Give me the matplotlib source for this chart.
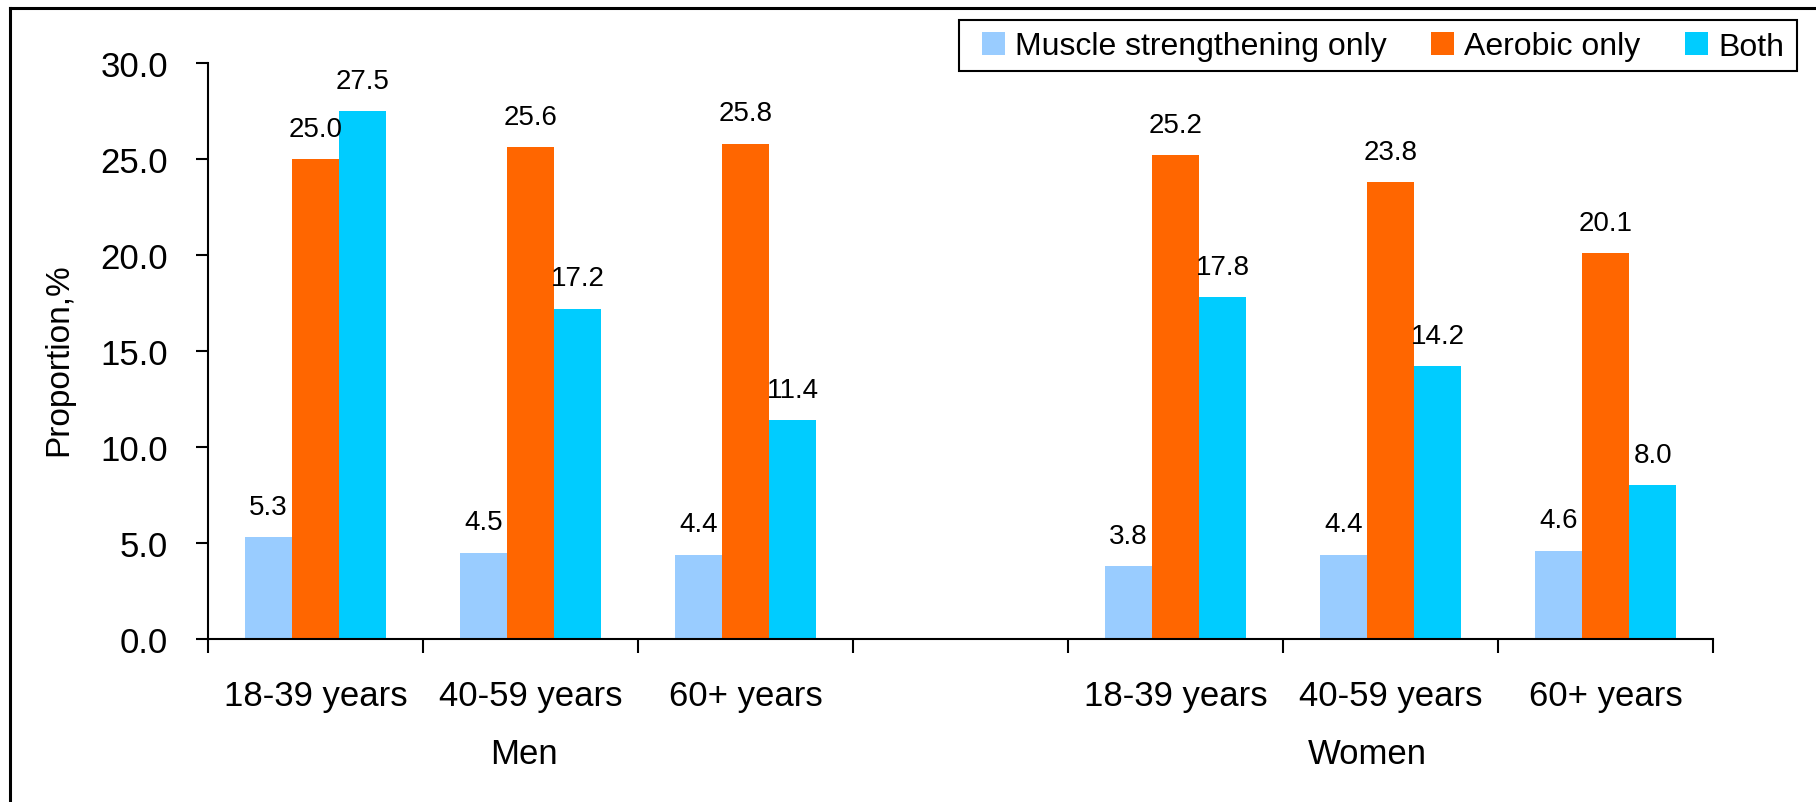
# coding=utf-8
"""
Proportion of adults meeting activity guidelines, by sex and age group
"""

import numpy as np
import matplotlib
matplotlib.use('Agg')
import matplotlib.pyplot as plt
from matplotlib.lines import Line2D
from matplotlib.patches import Rectangle

# Data
age_groups = ['18-39 years', '40-59 years', '60+ years']
sexes = ['Men', 'Women']
series = ['Muscle strengthening only', 'Aerobic only', 'Both']
muscle_only = [5.3, 4.5, 4.4, 3.8, 4.4, 4.6]
aerobic_only = [25.0, 25.6, 25.8, 25.2, 23.8, 20.1]
both = [27.5, 17.2, 11.4, 17.8, 14.2, 8.0]
y_ticks = [0.0, 5.0, 10.0, 15.0, 20.0, 25.0, 30.0]

COLORS = ['#99CCFF', '#FF6600', '#00CCFF']
BAR_W = 0.22
W, H = 1816.0, 803.0

plt.rcParams['font.family'] = ['Liberation Sans', 'DejaVu Sans']

fig = plt.figure(figsize=(W / 100, H / 100), dpi=100)
ax = fig.add_axes([208 / W, 1 - 640 / H, (1713 - 208) / W, (640 - 64) / H])

# Men en posiciones 0..2, hueco en 3, Women en 4..6
pos = np.array([0, 1, 2, 4, 5, 6], dtype=float)
values = [muscle_only, aerobic_only, both]

handles = []
for k, (vals, col, lbl) in enumerate(zip(values, COLORS, series)):
    xs = pos + (k - 1) * BAR_W
    b = ax.bar(xs, vals, width=BAR_W, color=col, label=lbl, edgecolor='none')
    handles.append(b)
    for xv, v in zip(xs, vals):
        ax.annotate('{0:.1f}'.format(v), (xv, v), xytext=(0, 12.5),
                    textcoords='offset points', ha='center', va='bottom',
                    fontsize=20)

# Ejes
ax.set_xlim(-0.5, 6.5)
ax.set_ylim(0, 30)
ax.set_yticks(y_ticks)
ax.set_yticklabels(['{0:.1f}'.format(t) for t in y_ticks], fontsize=25)
ax.tick_params(axis='y', direction='out', length=8.6, width=1.5, pad=20)

ax.set_xticks(np.arange(-0.5, 7.0, 1.0))
ax.set_xticklabels([])
ax.set_xticks(pos, minor=True)
ax.set_xticklabels(age_groups + age_groups, minor=True, fontsize=25)
ax.tick_params(axis='x', which='major', direction='out', length=10, width=1.5)
ax.tick_params(axis='x', which='minor', length=0, pad=29)

for s in ['top', 'right']:
    ax.spines[s].set_visible(False)
for s in ['left', 'bottom']:
    ax.spines[s].set_linewidth(1.5)

# Etiquetas de grupo
ax.text(0.97, -0.2153, sexes[0], transform=ax.get_xaxis_transform(),
        ha='center', va='baseline', fontsize=25)
ax.text(4.89, -0.2153, sexes[1], transform=ax.get_xaxis_transform(),
        ha='center', va='baseline', fontsize=25)

fig.text(59 / W, 1 - 360 / H, 'Proportion,%', rotation=90,
         ha='center', va='center', fontsize=24)

# Leyenda (marco dibujado aparte)
leg = fig.legend(handles=handles, labels=series, loc='center left',
                 bbox_to_anchor=(982 / W, 1 - 47.5 / H),
                 ncol=3, fontsize=23, frameon=False,
                 handlelength=0.72, handleheight=0.72, handletextpad=0.31,
                 columnspacing=1.4, borderpad=0, borderaxespad=0)
fig.add_artist(Rectangle((959 / W, 1 - 72 / H), (1797 - 959) / W, (72 - 21) / H,
                         transform=fig.transFigure, fill=False,
                         edgecolor='black', linewidth=1.5))

# Marco exterior (solo izquierda y arriba visibles)
fig.add_artist(Line2D([9.5 / W, 9.5 / W], [0, 1 - 8.5 / H],
                      color='black', linewidth=2.2, transform=fig.transFigure))
fig.add_artist(Line2D([9.5 / W, 1], [1 - 8.5 / H, 1 - 8.5 / H],
                      color='black', linewidth=2.2, transform=fig.transFigure))

fig.savefig('out.png', dpi=100)
